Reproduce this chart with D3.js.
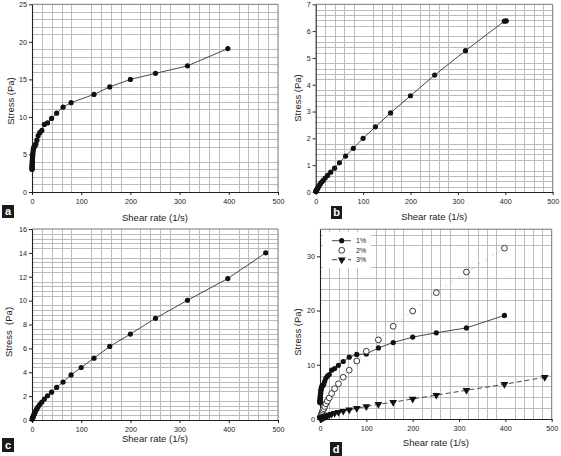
<!DOCTYPE html>
<html><head><meta charset="utf-8">
<script src="https://cdn.jsdelivr.net/npm/d3@7"></script>
<style>
body{margin:0;background:#fff}
svg{display:block}
text{font-family:"Liberation Sans",Arial,sans-serif}
</style>
</head><body>
<svg id="chart" width="561" height="456"></svg>
<script>
// ---------- DATA ----------
const shearA  = [0.1,0.126,0.158,0.2,0.251,0.316,0.398,0.5,0.63,0.79,1,1.26,1.58,2,2.51,3.16,3.98,5.01,6.31,7.94,10,12.6,15.8,20,25.1,31.6,39.8,50.1,63.1,79.4,126,158,200,251,316,398];
const stressA = [3.0,3.1,3.2,3.3,3.45,3.6,3.75,3.9,4.1,4.3,4.5,4.75,5.0,5.3,5.6,5.8,6.0,6.1,6.2,6.4,6.9,7.5,7.9,8.2,9.0,9.2,9.8,10.5,11.3,11.9,13.0,14.0,15.0,15.8,16.8,19.1];

const shearB  = [0.5,0.79,1,1.26,1.58,2,2.51,3.16,3.98,5.01,6.31,7.94,10,12.6,15.8,20,25.1,31.6,39.8,50.1,63.1,79.4,100,126,158,200,251,316,398,402];
const stressB = [0.02,0.03,0.04,0.05,0.06,0.07,0.09,0.11,0.14,0.17,0.21,0.26,0.31,0.37,0.43,0.52,0.62,0.74,0.89,1.09,1.34,1.63,2.0,2.43,2.95,3.59,4.36,5.27,6.37,6.38];

const shearC  = [0.5,0.79,1,1.26,1.58,2,2.51,3.16,3.98,5.01,6.31,7.94,10,12.6,15.8,20,25.1,31.6,39.8,50.1,63.1,79.4,100,126,158,200,251,316,398,475];
const stressC = [0.07,0.1,0.13,0.16,0.2,0.25,0.3,0.37,0.45,0.55,0.65,0.8,0.95,1.1,1.3,1.5,1.75,2.03,2.33,2.73,3.18,3.78,4.4,5.18,6.16,7.2,8.52,10.03,11.85,14.0];

const shearD1  = [0.1,0.126,0.158,0.2,0.251,0.316,0.398,0.5,0.63,0.79,1,1.26,1.58,2,2.51,3.16,3.98,5.01,6.31,7.94,10,12.6,15.8,20,25.1,31.6,39.8,50.1,63.1,79.4,100,126,158,200,251,316,398];
const stressD1 = [3.0,3.1,3.2,3.3,3.45,3.6,3.75,3.9,4.1,4.3,4.5,4.75,5.0,5.3,5.6,5.8,6.0,6.1,6.2,6.4,6.9,7.5,7.9,8.2,9.0,9.3,9.9,10.6,11.4,11.9,12.0,13.1,14.1,15.1,15.9,16.8,19.1];

const shearD2  = [1,1.26,1.58,2,2.51,3.16,3.98,5.01,6.31,7.94,10,12.6,15.8,20,25.1,31.6,39.8,50.1,63.1,79.4,100,126,158,200,251,316,398];
const stressD2 = [0.3,0.35,0.45,0.55,0.7,0.85,1.05,1.3,1.6,1.9,2.3,2.8,3.3,3.9,4.7,5.6,6.5,7.7,9.0,10.7,12.5,14.6,17.1,19.9,23.3,27.1,31.5];

const shearD3  = [1,1.58,2,2.51,3.16,3.98,5.01,6.31,7.94,10,12.6,15.8,20,25.1,31.6,39.8,50.1,63.1,79.4,100,126,158,200,251,316,398,485];
const stressD3 = [0.05,0.08,0.1,0.12,0.15,0.18,0.22,0.28,0.35,0.42,0.5,0.62,0.75,0.9,1.05,1.25,1.45,1.7,1.97,2.3,2.7,3.1,3.7,4.4,5.3,6.4,7.7];

const xTicks  = [0,100,200,300,400,500];
const yTicksA = [0,5,10,15,20,25];
const yTicksB = [0,1,2,3,4,5,6,7];
const yTicksC = [0,2,4,6,8,10,12,14,16];
const yTicksD = [0,10,20,30];
const legendLabels = ["1%","2%","3%"];
const panelLetters = ["a","b","c","d"];
const xTitle = "Shear rate (1/s)";
const yTitles = ["Stress (Pa)","Stress (Pa)","Stress  (Pa)","Stress (Pa)"];

// ---------- LAYOUT ----------
const svg = d3.select("#chart");
svg.append("rect").attr("width",561).attr("height",456).attr("fill","#fff");

const panels = [
  {box:[32,4.3,278,192], yDom:[0,25], yTicks:yTicksA, xMinor:20, yMinor:1,
   series:[{x:shearA,y:stressA,m:"dot",ls:"solid"}],
   letterBox:[2,205,12,13], xTitleY:221, yTitleX:13.5, yTitleY:101},
  {box:[315.7,4.3,552.7,192], yDom:[0,7], yTicks:yTicksB, xMinor:20, yMinor:0.2,
   series:[{x:shearB,y:stressB,m:"dot",ls:"solid"}],
   letterBox:[331,206,11,13], xTitleY:220, yTitleX:301, yTitleY:98},
  {box:[32,229,278,420], yDom:[0,16], yTicks:yTicksC, xMinor:20, yMinor:0.4,
   series:[{x:shearC,y:stressC,m:"dot",ls:"solid"}],
   letterBox:[2,438,12,14], xTitleY:442, yTitleX:12, yTitleY:332},
  {box:[320,229.2,551.7,419], yDom:[0,35], yTicks:yTicksD, xMinor:20, yMinor:2,
   series:[{x:shearD1,y:stressD1,m:"dot",ls:"solid"},
           {x:shearD2,y:stressD2,m:"open",ls:"dot"},
           {x:shearD3,y:stressD3,m:"tri",ls:"dash"}],
   letterBox:[330,442,12,14], xTitleY:446, yTitleX:301, yTitleY:332, legend:true}
];

function isMultiple(v, step){ const r = v/step; return Math.abs(r-Math.round(r))<1e-6; }

function drawMarker(g, m, cx, cy){
  if(m==="dot"){
    g.append("circle").attr("cx",cx).attr("cy",cy).attr("r",2.6).attr("fill","#111");
  } else if(m==="open"){
    g.append("circle").attr("cx",cx).attr("cy",cy).attr("r",2.9).attr("fill","#fff").attr("stroke","#222").attr("stroke-width",0.9);
  } else {
    g.append("path").attr("d",d3.symbol(d3.symbolTriangle,26)())
     .attr("transform",`translate(${cx},${cy}) rotate(180)`).attr("fill","#111");
  }
}
const lineStyle = {
  solid:{stroke:"#333",dash:null,w:0.9},
  dot:{stroke:"#aaa",dash:"1,7",w:1},
  dash:{stroke:"#333",dash:"5,3",w:0.9}
};

panels.forEach((p,i)=>{
  const [l,t,r,b] = p.box;
  const x = d3.scaleLinear().domain([0,500]).range([l,r]);
  const y = d3.scaleLinear().domain(p.yDom).range([b,t]);
  const g = svg.append("g");

  // minor grid
  const xMaj = xTicks[1]-xTicks[0], yMaj = p.yTicks[1]-p.yTicks[0];
  const xg = d3.range(0, 500+1e-9, p.xMinor).filter(v=>!isMultiple(v,xMaj));
  const yg = d3.range(p.yDom[0], p.yDom[1]+1e-9, p.yMinor).filter(v=>!isMultiple(v,yMaj));
  g.selectAll(".vg").data(xg).enter().append("line")
   .attr("x1",d=>Math.round(x(d))+0.5).attr("x2",d=>Math.round(x(d))+0.5)
   .attr("y1",t).attr("y2",b).attr("stroke","#bcbcbc").attr("stroke-width",1);
  g.selectAll(".hg").data(yg).enter().append("line")
   .attr("y1",d=>Math.round(y(d))+0.5).attr("y2",d=>Math.round(y(d))+0.5)
   .attr("x1",l).attr("x2",r).attr("stroke","#bcbcbc").attr("stroke-width",1);

  // frame top/right
  g.append("path").attr("d",`M${l},${t}H${r}V${b}`).attr("fill","none").attr("stroke","#777").attr("stroke-width",1);

  // axes
  const ax = g.append("g").attr("transform",`translate(0,${b})`)
    .call(d3.axisBottom(x).tickValues(xTicks).tickFormat(d3.format("d")).tickSize(3).tickSizeOuter(0).tickPadding(4));
  const ay = g.append("g").attr("transform",`translate(${l},0)`)
    .call(d3.axisLeft(y).tickValues(p.yTicks).tickFormat(d3.format("d")).tickSize(3).tickSizeOuter(0).tickPadding(2));
  [ax,ay].forEach(a=>{
    a.select(".domain").attr("stroke","#222").attr("stroke-width",1.1);
    a.selectAll(".tick line").attr("stroke","#222");
    a.selectAll(".tick text").attr("font-size",7.2).attr("fill","#222")
      .attr("font-family","'Liberation Sans',Arial,sans-serif");
  });

  // series
  p.series.forEach(s=>{
    const pts = s.x.map((v,k)=>[x(v), y(s.y[k])]);
    const st = lineStyle[s.ls];
    g.append("path").attr("d",d3.line()(pts)).attr("fill","none")
     .attr("stroke",st.stroke).attr("stroke-width",st.w).attr("stroke-dasharray",st.dash);
    pts.forEach(pt=>drawMarker(g,s.m,pt[0],pt[1]));
  });

  // titles
  g.append("text").attr("x",(l+r)/2).attr("y",p.xTitleY).attr("text-anchor","middle")
   .attr("font-size",9.5).attr("fill","#222").text(xTitle);
  g.append("text").attr("transform",`translate(${p.yTitleX},${p.yTitleY}) rotate(-90)`)
   .attr("text-anchor","middle").attr("font-size",9.5).attr("fill","#222")
   .style("white-space","pre").text(yTitles[i]);

  // panel letter
  const [lx,ly,lw,lh] = p.letterBox;
  g.append("rect").attr("x",lx).attr("y",ly).attr("width",lw).attr("height",lh).attr("fill","#1a1a1a");
  g.append("text").attr("x",lx+lw/2).attr("y",ly+lh-3).attr("text-anchor","middle")
   .attr("font-size",11).attr("font-weight","bold").attr("fill","#fff").text(panelLetters[i]);

  // legend
  if(p.legend){
    g.append("rect").attr("x",l+3).attr("y",t+3).attr("width",48).attr("height",36).attr("fill","#fff");
    const ys = [240.7,250.3,259.7];
    p.series.forEach((s,k)=>{
      const st = lineStyle[s.ls];
      if(s.ls!=="dot"){
        g.append("line").attr("x1",332).attr("x2",351).attr("y1",ys[k]).attr("y2",ys[k])
         .attr("stroke",st.stroke).attr("stroke-width",st.w).attr("stroke-dasharray",st.dash);
      }
      drawMarker(g,s.m,341.7,ys[k]);
      g.append("text").attr("x",356).attr("y",ys[k]+2.5).attr("font-size",7).attr("fill","#222").text(legendLabels[k]);
    });
  }
});
</script>
</body></html>
